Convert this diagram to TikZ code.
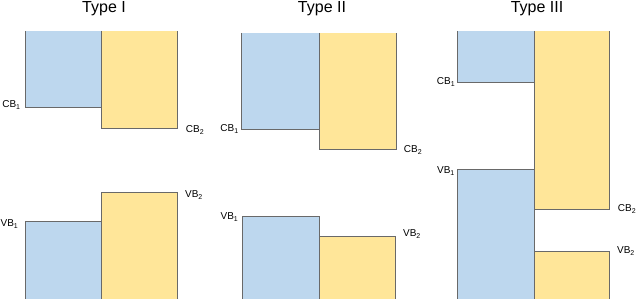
\documentclass[tikz,border=0pt]{standalone}
\usepackage{fontspec}
\setmainfont{Liberation Sans}
\usepackage{tikz}

\begin{document}
\begin{tikzpicture}[x=1pt, y=-1pt,
  cbfill/.style={fill={rgb,255:red,189;green,215;blue,238}},
  vbfill/.style={fill={rgb,255:red,255;green,230;blue,153}},
  edge/.style={draw={rgb,255:red,105;green,105;blue,105}, line width=0.9pt},
  lbl/.style={font=\fontsize{10}{12}\selectfont, inner sep=0pt},
  ttl/.style={font=\fontsize{16}{19}\selectfont, inner sep=0pt}
]
  \useasboundingbox (0,0) rectangle (637,299);

  % titles
  \node[ttl] (t1) at (104,9)  {Type I};
  \node[ttl] (t2) at (322,9)  {Type II};
  \node[ttl] (t3) at (537,9)  {Type III};

  % Type I
  \fill[cbfill] (25,31) rectangle (101,107);
  \fill[vbfill] (101,31) rectangle (177,128);
  \draw[edge] (25,31) -- (25,107) -- (101,107);
  \draw[edge] (101,31) -- (101,128) -- (177,128) -- (177,31);
  \fill[cbfill] (25,221) rectangle (101,299);
  \fill[vbfill] (101,192) rectangle (177,299);
  \draw[edge] (25,299) -- (25,221) -- (101,221);
  \draw[edge] (101,299) -- (101,192) -- (177,192) -- (177,299);
  \node[lbl] (cb1a) at (11.5,105) {CB\textsubscript{1}};
  \node[lbl] (cb2a) at (195,130)  {CB\textsubscript{2}};
  \node[lbl] (vb1a) at (9.5,224)  {VB\textsubscript{1}};
  \node[lbl] (vb2a) at (194,195)  {VB\textsubscript{2}};

  % Type II
  \fill[cbfill] (241,33) rectangle (319,129);
  \fill[vbfill] (319,33) rectangle (396,149);
  \draw[edge] (241,33) -- (241,129) -- (319,129);
  \draw[edge] (319,33) -- (319,149) -- (396,149) -- (396,33);
  \fill[cbfill] (242,216) rectangle (319,299);
  \fill[vbfill] (319,236) rectangle (395,299);
  \draw[edge] (242,299) -- (242,216) -- (319,216) -- (319,299);
  \draw[edge] (319,236) -- (395,236) -- (395,299);
  \node[lbl] (cb1b) at (229.5,129) {CB\textsubscript{1}};
  \node[lbl] (cb2b) at (413,150)   {CB\textsubscript{2}};
  \node[lbl] (vb1b) at (229.5,217) {VB\textsubscript{1}};
  \node[lbl] (vb2b) at (412,234)   {VB\textsubscript{2}};

  % Type III
  \fill[cbfill] (457,31) rectangle (534,82);
  \fill[vbfill] (534,31) rectangle (609,209);
  \draw[edge] (457,31) -- (457,82) -- (534,82);
  \draw[edge] (534,31) -- (534,209) -- (609,209) -- (609,31);
  \fill[cbfill] (457,169) rectangle (534,299);
  \fill[vbfill] (534,251) rectangle (609,299);
  \draw[edge] (457,299) -- (457,169) -- (534,169) -- (534,299);
  \draw[edge] (534,251) -- (609,251) -- (609,299);
  \node[lbl] (cb1c) at (446,82)  {CB\textsubscript{1}};
  \node[lbl] (cb2c) at (627,209) {CB\textsubscript{2}};
  \node[lbl] (vb1c) at (446,171) {VB\textsubscript{1}};
  \node[lbl] (vb2c) at (626,251) {VB\textsubscript{2}};
\end{tikzpicture}
\end{document}
